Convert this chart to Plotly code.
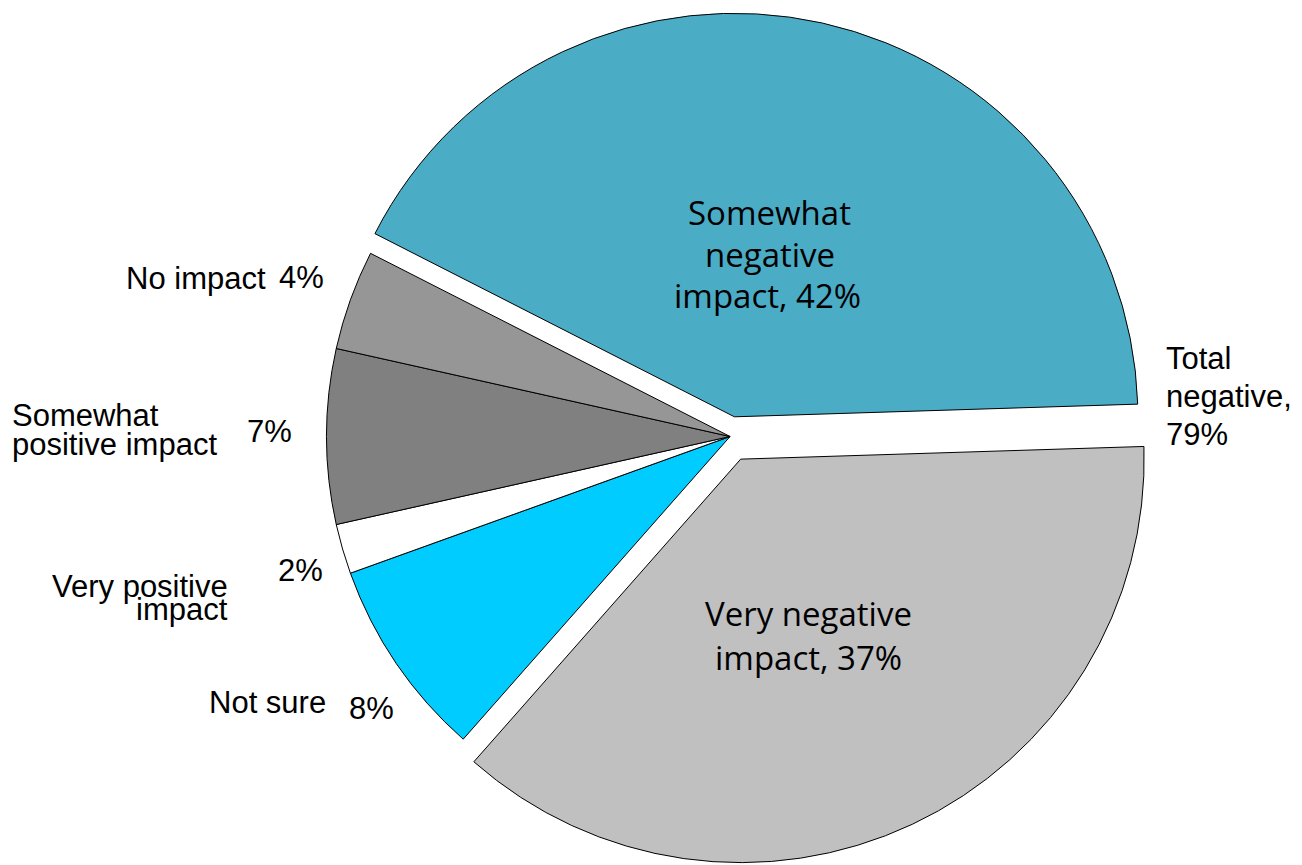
import plotly.graph_objects as go

W, H = 1302, 865
TOP = 8  # small top margin so the pie centre sits a little lower

# ---- data -------------------------------------------------------------
categories = [
    "Somewhat negative impact",
    "Very negative impact",
    "Not sure",
    "Very positive impact",
    "Somewhat positive impact",
    "No impact",
]
values = [42, 37, 8, 2, 7, 4]
slice_colors = ["#4BACC6", "#C0C0C0", "#00CCFF", "#FFFFFF", "#808080", "#969696"]
pull = [0.05, 0.062, 0, 0, 0, 0]

val = dict(zip(categories, values))
total_negative = val["Somewhat negative impact"] + val["Very negative impact"]

# ---- pie --------------------------------------------------------------
fig = go.Figure(
    go.Pie(
        labels=categories,
        values=values,
        sort=False,
        direction="clockwise",
        rotation=-63,
        pull=pull,
        marker=dict(colors=slice_colors, line=dict(color="black", width=1)),
        textinfo="none",
        hoverinfo="label+percent",
        domain=dict(x=[0.1214, 1.0], y=[0, 1]),
        showlegend=False,
    )
)

# ---- labels -----------------------------------------------------------
INNER = dict(family="Open Sans", size=33, color="black", mid=0.388)
OUTER = dict(family="Liberation Sans, Arial", size=31, color="black", mid=0.3465)


def add_text(text, x, baseline, anchor, style):
    y_mid = baseline - style["mid"] * style["size"]
    fig.add_annotation(
        text=text,
        x=x / W,
        y=(H - y_mid) / (H - TOP),
        xref="paper",
        yref="paper",
        xanchor=anchor,
        yanchor="middle",
        showarrow=False,
        borderpad=0,
        font=dict(family=style["family"], size=style["size"], color=style["color"]),
    )


# text inside the two large slices
add_text("Somewhat", 769, 225.7, "center", INNER)
add_text("negative", 770, 267, "center", INNER)
add_text(f"impact, {val['Somewhat negative impact']}%", 767, 308.3, "center", INNER)
add_text("Very negative", 808, 626, "center", INNER)
add_text(f"impact, {val['Very negative impact']}%", 809, 670.7, "center", INNER)

# category names and shares around the left side
add_text("No impact", 267, 289.3, "right", OUTER)
add_text(f"{val['No impact']}%", 278, 288.3, "left", OUTER)
add_text("Somewhat", 11, 426, "left", OUTER)
add_text("positive impact", 11, 455, "left", OUTER)
add_text(f"{val['Somewhat positive impact']}%", 246, 442.7, "left", OUTER)
add_text(f"{val['Very positive impact']}%", 277, 581.7, "left", OUTER)
add_text("Very positive", 229, 597.7, "right", OUTER)
add_text("impact", 229, 620.7, "right", OUTER)
add_text("Not sure", 327, 713.3, "right", OUTER)
add_text(f"{val['Not sure']}%", 348, 719.3, "left", OUTER)

# combined negative share on the right
add_text("Total", 1165, 369.3, "left", OUTER)
add_text("negative,", 1165, 407.5, "left", OUTER)
add_text(f"{total_negative}%", 1165, 445, "left", OUTER)

fig.update_layout(
    width=W,
    height=H,
    margin=dict(l=0, r=0, t=TOP, b=0, pad=0),
    paper_bgcolor="white",
    plot_bgcolor="white",
)

fig.write_html("out.html")
